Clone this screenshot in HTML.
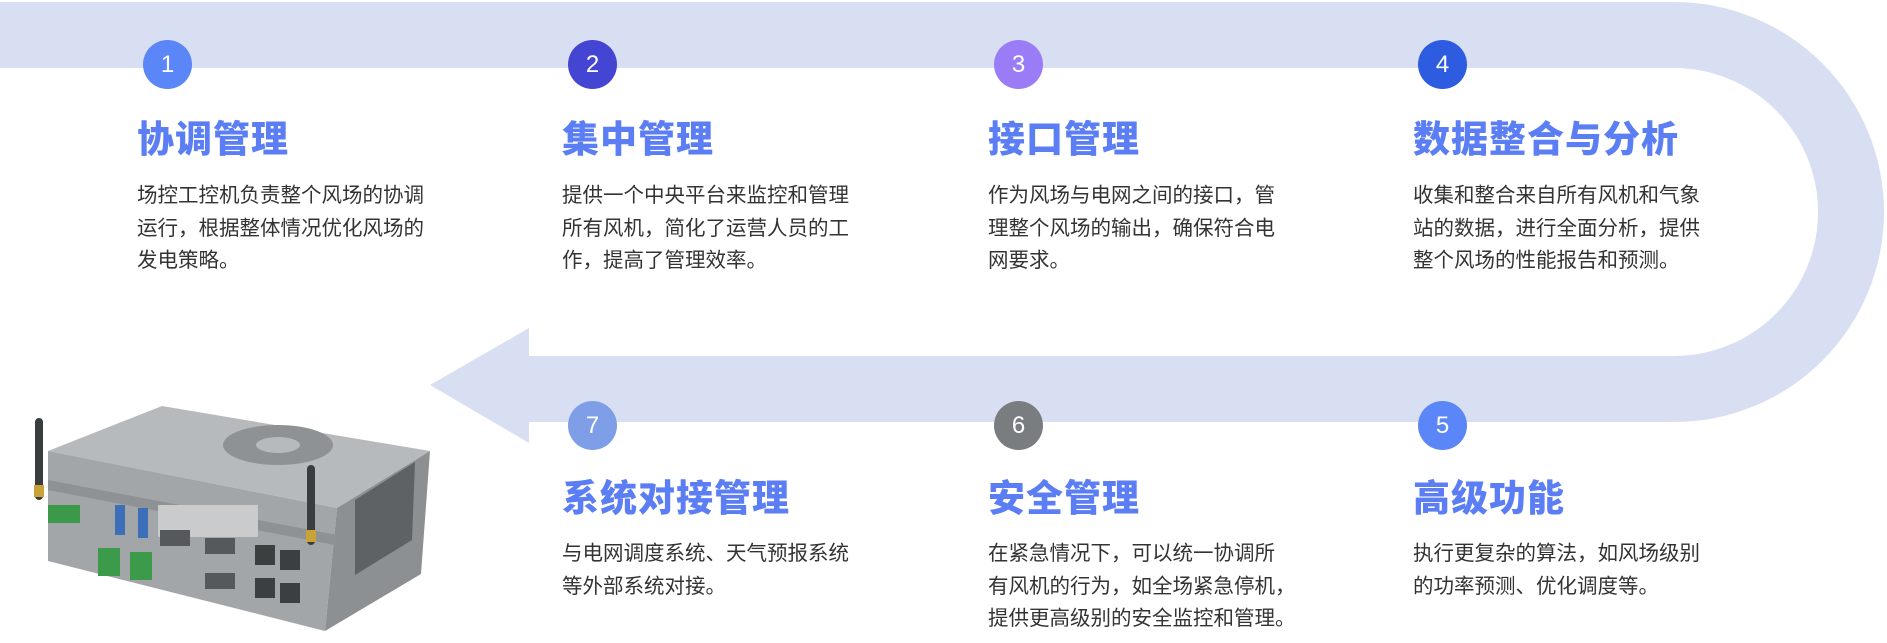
<!DOCTYPE html>
<html><head><meta charset="utf-8">
<style>
html,body{margin:0;padding:0;background:#fff;}
body{width:1887px;height:643px;position:relative;overflow:hidden;font-family:"Liberation Sans","Noto Sans CJK SC",sans-serif;}
.c{position:absolute;width:49px;height:49px;border-radius:50%;color:#fff;font-size:24px;text-align:center;line-height:49px;font-family:"Liberation Sans",sans-serif;}
.t{position:absolute;font-size:37px;font-weight:900;color:#5b7ef5;line-height:43px;white-space:nowrap;font-family:"Noto Sans CJK SC",sans-serif;letter-spacing:1px;}
.d{position:absolute;font-size:20.5px;color:#333;line-height:32.5px;white-space:nowrap;font-family:"Noto Sans CJK SC",sans-serif;}
svg{position:absolute;left:0;top:0;}
</style></head><body>
<svg width="1887" height="643">
<path d="M0 2 H1674 A210 210 0 0 1 1674 422 H529 V443 L430 385 L529 328 V356 H1674 A144 144 0 0 0 1674 68 H0 Z" fill="#d9dff2"/>
<g>
<polygon points="48,451 162,406 430,451 337,508" fill="#b7babc"/>
<ellipse cx="278" cy="445" rx="55" ry="20" fill="#8e9294"/>
<ellipse cx="278" cy="445" rx="22" ry="8" fill="#b7babc"/>
<polygon points="48,451 337,508 325,631 48,561" fill="#a2a6a8"/>
<polygon points="337,508 430,451 421,574 325,631" fill="#8c9092"/>
<polygon points="355,500 415,462 412,540 355,575" fill="#5e6264"/>
<polygon points="48,480 337,535 335,545 48,490" fill="#8e9294"/>
<rect x="48" y="505" width="32" height="18" fill="#3b9a4a"/>
<rect x="98" y="548" width="22" height="28" fill="#3c9a4b"/>
<rect x="130" y="552" width="22" height="28" fill="#3c9a4b"/>
<rect x="115" y="505" width="10" height="30" fill="#3d6fb8"/>
<rect x="138" y="508" width="10" height="30" fill="#3d6fb8"/>
<rect x="158" y="505" width="100" height="32" fill="#c9cbcc"/>
<rect x="160" y="530" width="30" height="16" fill="#55595b"/>
<rect x="205" y="538" width="30" height="16" fill="#55595b"/>
<rect x="205" y="573" width="30" height="16" fill="#55595b"/>
<rect x="255" y="545" width="20" height="20" fill="#3c3f40"/>
<rect x="280" y="550" width="20" height="20" fill="#3c3f40"/>
<rect x="255" y="578" width="20" height="20" fill="#3c3f40"/>
<rect x="280" y="583" width="20" height="20" fill="#3c3f40"/>
<rect x="35" y="418" width="8" height="82" rx="4" fill="#3a3d3e"/>
<rect x="34" y="485" width="10" height="12" fill="#c9a23a"/>
<rect x="307" y="465" width="8" height="80" rx="4" fill="#3a3d3e"/>
<rect x="306" y="530" width="10" height="12" fill="#c9a23a"/>
</g>
</svg>

<div class="c" style="left:143px;top:40px;background:#5b86f7">1</div>
<div class="c" style="left:568px;top:40px;background:#4545d4">2</div>
<div class="c" style="left:994px;top:40px;background:#9a7cf7">3</div>
<div class="c" style="left:1418px;top:40px;background:#2e5ce0">4</div>
<div class="c" style="left:1418px;top:401px;background:#5b86f7">5</div>
<div class="c" style="left:994px;top:401px;background:#7a7d80">6</div>
<div class="c" style="left:568px;top:401px;background:#7f9ee8">7</div>

<div class="t" style="left:137px;top:115px">协调管理</div>
<div class="t" style="left:562px;top:115px">集中管理</div>
<div class="t" style="left:988px;top:115px">接口管理</div>
<div class="t" style="left:1413px;top:115px">数据整合与分析</div>
<div class="t" style="left:562px;top:474px">系统对接管理</div>
<div class="t" style="left:988px;top:474px">安全管理</div>
<div class="t" style="left:1413px;top:474px">高级功能</div>

<div class="d" style="left:137px;top:177px">场控工控机负责整个风场的协调<br>运行，根据整体情况优化风场的<br>发电策略。</div>
<div class="d" style="left:562px;top:177px">提供一个中央平台来监控和管理<br>所有风机，简化了运营人员的工<br>作，提高了管理效率。</div>
<div class="d" style="left:988px;top:177px">作为风场与电网之间的接口，管<br>理整个风场的输出，确保符合电<br>网要求。</div>
<div class="d" style="left:1413px;top:177px">收集和整合来自所有风机和气象<br>站的数据，进行全面分析，提供<br>整个风场的性能报告和预测。</div>
<div class="d" style="left:562px;top:535px">与电网调度系统、天气预报系统<br>等外部系统对接。</div>
<div class="d" style="left:988px;top:535px">在紧急情况下，可以统一协调所<br>有风机的行为，如全场紧急停机，<br>提供更高级别的安全监控和管理。</div>
<div class="d" style="left:1413px;top:535px">执行更复杂的算法，如风场级别<br>的功率预测、优化调度等。</div>
</body></html>
